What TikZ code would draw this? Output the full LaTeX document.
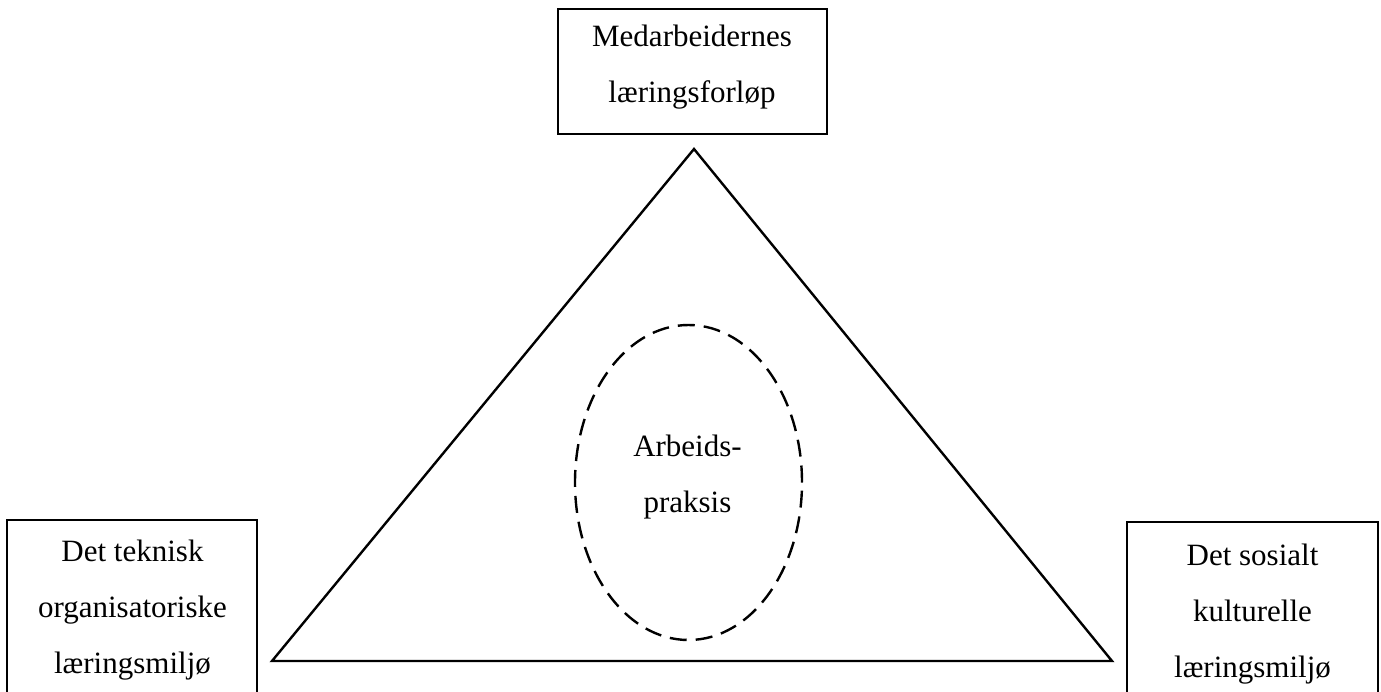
\documentclass[tikz,border=0pt]{standalone}
\usepackage{fontspec}
\setmainfont{Liberation Serif}
\usetikzlibrary{shapes.geometric}
\begin{document}
\begin{tikzpicture}[x=1pt,y=-1pt,
  box/.style={draw, line width=1.3pt, inner sep=0pt, rectangle},
  lbl/.style={align=center, inner sep=0pt, font=\fontsize{31}{56}\selectfont},
  tri/.style={draw, line width=2.4pt, line join=miter},
  oval/.style={draw, ellipse, line width=2.4pt, dash pattern=on 17pt off 9pt, inner sep=0pt}]
\useasboundingbox (0,0) rectangle (1381,691);
\clip (0,0) rectangle (1381,691);
% boxes
\node[box, minimum width=269pt, minimum height=125pt] (topbox) at (692.5,71.5) {};
\node[box, minimum width=250pt, minimum height=181pt] (leftbox) at (132,610.5) {};
\node[box, minimum width=251pt, minimum height=184pt] (rightbox) at (1252.5,614) {};
\node[lbl] (toptext) at (692,67) {Medarbeidernes\\læringsforløp};
\node[lbl] (lefttext) at (132.5,610.5) {Det teknisk\\organisatoriske\\læringsmiljø};
\node[lbl] (righttext) at (1252.5,614) {Det sosialt\\kulturelle\\læringsmiljø};
% triangle
\coordinate (apex) at (694,149);
\coordinate (bl) at (272,661);
\coordinate (br) at (1112,661);
\draw[tri] (apex) -- (bl) -- (br) -- cycle;
% ellipse
\node[oval, minimum width=227pt, minimum height=315pt] (core) at (688.5,482.5) {};
\node[lbl] (coretext) at (687.5,477) {Arbeids-\\praksis};
\end{tikzpicture}
\end{document}
